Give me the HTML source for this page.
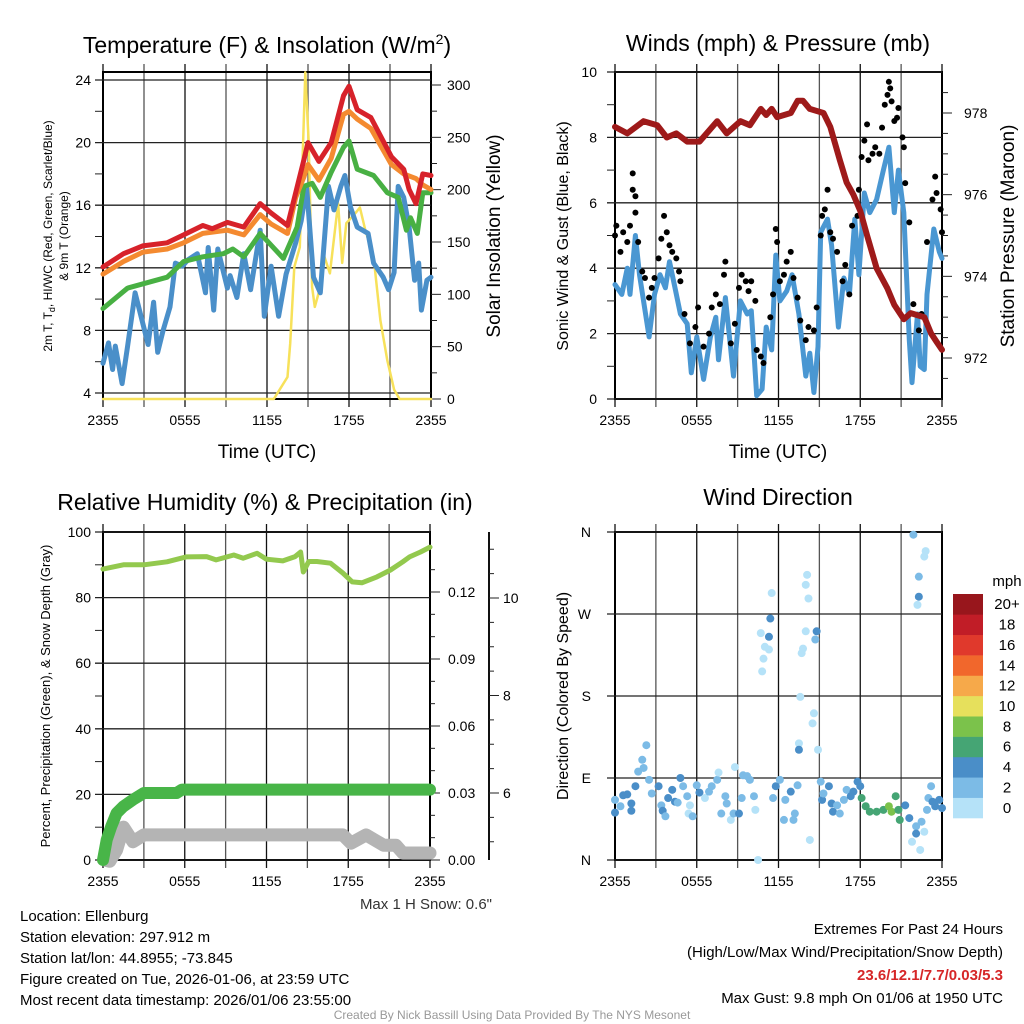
<!DOCTYPE html>
<html><head><meta charset="utf-8"><style>
html,body{margin:0;padding:0;background:#fff;}
svg{display:block;font-family:"Liberation Sans",sans-serif;}
</style></head><body>
<svg id="root" width="1024" height="1024" viewBox="0 0 1024 1024" xmlns="http://www.w3.org/2000/svg">
<g id="static">
<text x="267" y="53" font-size="23" text-anchor="middle">Temperature (F) &amp; Insolation (W/m<tspan dy="-9" font-size="14">2</tspan><tspan dy="9">)</tspan></text>
<text x="778" y="51" font-size="23" text-anchor="middle">Winds (mph) &amp; Pressure (mb)</text>
<text x="265" y="510" font-size="23" text-anchor="middle">Relative Humidity (%) &amp; Precipitation (in)</text>
<text x="778" y="505" font-size="23" text-anchor="middle">Wind Direction</text>
<text x="267" y="458" font-size="19" text-anchor="middle">Time (UTC)</text>
<text x="778" y="458" font-size="19" text-anchor="middle">Time (UTC)</text>
<text transform="translate(52,236) rotate(-90)" font-size="12" text-anchor="middle">2m T, T<tspan dy="3" font-size="9">d</tspan><tspan dy="-3">, HI/WC (Red, Green, Scarlet/Blue)</tspan></text>
<text transform="translate(68,236) rotate(-90)" font-size="12" text-anchor="middle">&amp; 9m T (Orange)</text>
<text transform="translate(500,236) rotate(-90)" font-size="19" text-anchor="middle">Solar Insolation (Yellow)</text>
<text transform="translate(568,236) rotate(-90)" font-size="16" text-anchor="middle">Sonic Wind &amp; Gust (Blue, Black)</text>
<text transform="translate(1014,236) rotate(-90)" font-size="19" text-anchor="middle">Station Pressure (Maroon)</text>
<text transform="translate(50,696) rotate(-90)" font-size="13" text-anchor="middle">Percent, Precipitation (Green), &amp; Snow Depth (Gray)</text>
<text transform="translate(568,696) rotate(-90)" font-size="16" text-anchor="middle">Direction (Colored By Speed)</text>
<text x="492" y="909" font-size="15" text-anchor="end" fill="#333">Max 1 H Snow: 0.6"</text>
<g font-size="15">
<text x="20" y="921">Location: Ellenburg</text>
<text x="20" y="942">Station elevation: 297.912 m</text>
<text x="20" y="963">Station lat/lon: 44.8955; -73.845</text>
<text x="20" y="984">Figure created on Tue, 2026-01-06, at 23:59 UTC</text>
<text x="20" y="1005">Most recent data timestamp: 2026/01/06 23:55:00</text>
</g>
<g font-size="15" text-anchor="end">
<text x="1003" y="934">Extremes For Past 24 Hours</text>
<text x="1003" y="957">(High/Low/Max Wind/Precipitation/Snow Depth)</text>
<text x="1003" y="980" fill="#d62728" font-weight="bold">23.6/12.1/7.7/0.03/5.3</text>
<text x="1003" y="1003">Max Gust: 9.8 mph On 01/06 at 1950 UTC</text>
</g>
<text x="512" y="1019" font-size="12" fill="#999" text-anchor="middle">Created By Nick Bassill Using Data Provided By The NYS Mesonet</text>
</g>
</svg>
<script>
// ---------- data ----------
const timeTickLabels = ["2355","0555","1155","1755","2355"];
const tempTicks = [4,8,12,16,20,24];
const solarTicks = [0,50,100,150,200,250,300];
const redH = [0,1.5,2.9,4.7,5.9,7.3,8.0,9.1,10.3,11.5,12.3,13.5,14.1,14.7,15.0,15.8,16.7,17.6,18.0,18.6,19.6,21.1,22.0,22.4,22.9,23.4,24];
const redT = [12.05,12.9,13.4,13.6,14.1,14.7,14.5,14.9,14.6,16.1,15.5,14.7,16.8,18.9,20.0,18.8,20.0,23.0,23.6,22.1,21.6,19.1,18.3,17.0,16.1,18.0,17.9];
const orangeH = [0,1.5,2.9,4.7,5.9,7.3,9.1,10.3,11.5,12.3,13.5,14.1,14.7,15.0,15.8,16.7,17.6,18.0,18.6,19.6,21.1,22.0,22.9,23.4,24];
const orangeT = [11.6,12.4,13.0,13.2,13.6,14.2,14.4,14.1,15.4,14.8,14.2,16.5,17.8,18.6,17.6,19.0,21.8,22.0,21.5,20.9,18.6,18.0,17.7,17.3,17.0];
const greenH = [0,1.8,4.7,5.9,7.3,8.8,9.5,10.3,11.5,13.2,14.2,14.7,15.3,15.9,16.7,17.6,18.0,18.6,19.8,20.8,21.6,22.2,22.5,23.0,23.4,24];
const greenT = [9.4,10.7,11.4,12.4,12.7,12.9,13.2,12.7,14.2,12.6,14.6,17.2,17.4,16.5,18.1,19.7,20.1,18.3,17.9,16.8,16.5,14.4,15.2,14.2,16.8,16.8];
const blueH = [0,0.4,0.7,0.9,1.4,1.8,2.35,2.9,3.3,3.7,4.0,4.4,4.9,5.3,5.8,6.2,6.9,7.5,7.7,8.1,8.4,9.1,9.3,9.8,10.3,10.8,11.5,11.8,12.3,12.85,13.4,14.1,14.5,14.9,15.4,15.9,16.5,16.9,17.4,17.7,18.1,18.6,19.4,19.8,20.5,20.9,21.3,21.6,22.0,22.4,22.8,23.1,23.3,23.7,24];
const blueT = [5.9,7.2,5.5,7.0,4.6,7.0,10.4,8.5,7.1,9.8,6.6,8.0,9.5,12.3,12.1,12.5,12.9,10.4,13.3,9.3,13.2,10.7,11.5,10.1,12.9,10.6,14.4,8.9,12.1,8.9,11.6,13.6,15.0,17.2,11.4,10.4,17.2,15.7,17.2,17.9,15.9,14.6,14.2,12.3,11.4,10.6,11.7,17.2,16.5,14.6,11.2,12.3,9.3,11.2,11.4];
const solarH = [0,12.5,13.5,13.7,14.0,14.4,14.8,15.05,15.3,15.5,15.9,16.2,16.6,17.2,17.5,17.8,18.5,18.8,19.2,19.8,20.3,20.8,21.3,21.7,24];
const solarW = [0,0,21,53,126,145,312,245,107,88,107,136,120,187,130,168,178,183,161,136,75,37,9,0,0];

const windTicks = [0,2,4,6,8,10];
const pressTicks = [972,974,976,978];
const windH = [0,0.5,0.9,1.1,1.5,1.8,2.5,2.9,3.3,3.7,4.0,4.4,4.8,5.3,5.6,6.0,6.5,7.0,7.4,7.6,8.1,8.5,8.7,9.2,9.7,10.0,10.4,10.8,11.1,11.5,11.8,12.1,12.6,13.0,13.5,14.0,14.3,14.6,14.9,15.1,15.6,15.9,16.4,16.8,17.2,17.6,17.9,18.3,18.7,19.2,19.7,20.1,20.5,20.8,21.2,21.6,21.8,22.2,22.4,22.7,22.9,23.4,23.8,24.0];
const windMph = [3.5,3.2,4.0,3.2,5.0,3.8,1.9,3.2,3.8,3.4,4.2,3.4,2.6,2.3,0.8,1.9,0.6,1.9,2.5,1.2,3.1,1.5,0.7,3.0,2.6,2.7,0.1,0.3,2.2,1.5,4.4,3.0,3.3,3.8,2.6,0.7,1.4,0.2,1.6,5.1,5.5,4.7,2.2,3.7,3.2,5.5,3.8,6.3,5.7,6.1,7.0,7.7,5.7,7.0,5.7,1.8,0.5,2.6,1.0,0.9,3.2,5.2,4.5,4.3];
const gustH = [0,0.1,0.4,0.6,0.9,1.1,1.3,1.3,1.5,1.5,1.7,2.0,2.2,2.5,2.7,2.9,3.2,3.4,3.6,3.8,4.0,4.2,4.5,4.7,4.8,5.1,5.5,5.9,6.1,6.5,6.9,7.1,7.4,7.7,8.0,8.1,8.5,8.8,9.1,9.3,9.6,9.8,10.0,10.3,10.4,10.7,10.9,11.4,11.6,11.8,11.9,12.1,12.4,12.6,12.9,13.1,13.4,13.6,14.0,14.2,14.6,14.8,15.1,15.2,15.4,15.6,15.8,16.0,16.3,16.7,16.9,17.2,17.4,17.8,17.9,18.1,18.3,18.5,18.6,18.9,19.1,19.4,19.6,19.8,20.0,20.1,20.2,20.3,20.5,20.7,20.8,21.1,21.2,21.3,21.6,21.9,22.3,22.5,22.9,23.3,23.5,23.6,23.9,24.0];
const gustMph = [5.0,5.3,4.5,5.1,4.8,5.3,6.9,6.4,6.2,5.7,4.8,3.9,3.7,3.1,3.4,3.7,4.3,4.9,5.6,5.1,4.7,4.5,4.3,3.9,3.6,2.6,1.7,2.2,2.8,1.6,2.0,2.8,3.2,2.9,3.8,4.2,1.7,2.3,3.4,3.8,3.6,3.3,3.6,3.0,1.5,1.3,1.1,2.5,3.2,5.2,4.8,3.6,3.8,4.2,4.5,3.7,3.1,2.4,1.8,2.2,2.1,2.8,5.0,5.6,5.8,6.4,5.1,4.9,4.5,3.6,4.1,3.2,5.3,5.6,6.4,7.4,7.9,8.4,7.3,7.5,7.7,7.5,8.3,9.0,9.3,9.7,9.5,9.1,8.5,8.6,8.9,8.0,7.7,6.6,5.4,2.9,2.1,2.6,4.8,6.1,6.8,6.3,5.8,5.1];
const pressH = [0,0.9,2.1,3.1,3.8,4.5,5.3,6.2,7.5,8.2,9.2,9.9,10.7,11.1,11.5,11.9,12.9,13.4,13.8,14.3,15.3,15.8,16.5,17.0,17.5,18.0,18.5,19.2,20.0,20.5,21.2,21.7,22.7,23.2,23.6,24];
const pressMb = [977.66,977.5,977.8,977.7,977.4,977.5,977.3,977.3,977.8,977.5,977.8,977.7,978.1,977.95,978.1,977.9,978.0,978.3,978.3,978.1,978.0,977.66,976.85,976.3,976.0,975.6,975.0,974.2,973.7,973.3,972.95,973.1,973.0,972.6,972.4,972.2];

const rhTicks = [0,20,40,60,80,100];
const precipTicks = ["0.00","0.03","0.06","0.09","0.12"];
const snowTicks = [6,8,10];
const rhH = [0,1.5,3.0,4.7,6.1,7.6,8.3,9.6,10.3,11.3,12.0,13.2,14.1,14.5,14.7,15.1,15.7,16.7,17.6,18.3,19.0,20.1,21.1,22.0,22.5,23.3,24];
const rhPct = [88.7,90.0,90.0,90.9,92.4,92.5,91.5,93.0,92.0,93.5,91.7,91.2,92.5,93.9,87.8,91.0,91.0,90.5,87.5,84.8,84.5,86.3,88.4,90.9,92.4,93.9,95.4];
const precipH = [0,0.27,0.6,1.0,1.5,2.2,3.0,5.4,5.8,24];
const precipIn = [0,0.009,0.015,0.021,0.024,0.027,0.030,0.030,0.0315,0.0315];
const snowH = [0.2,0.5,1.0,1.5,2.2,3.0,17.6,18.2,19.3,20.6,21.5,22.0,24];
const snowIn = [4.62,4.6,4.83,5.3,5.0,5.14,5.14,4.97,5.14,4.93,4.93,4.77,4.77];

const dirLabels = ["N","E","S","W","N"];
const dirH = [0.0,0.0,0.4,0.6,0.9,1.2,1.2,1.5,1.7,2.0,2.1,2.3,2.5,2.7,3.2,3.4,3.5,3.7,3.9,4.2,4.4,4.6,4.8,5.0,5.3,5.4,5.5,5.7,6.0,6.2,6.6,6.9,7.1,7.5,7.6,7.8,8.1,8.2,8.5,8.7,8.8,9.1,9.3,9.4,9.7,9.9,10.2,10.3,10.5,10.7,10.8,10.9,11.0,11.3,11.3,11.4,11.5,11.6,11.8,12.1,12.4,12.5,12.9,13.1,13.2,13.4,13.5,13.5,13.6,13.7,13.8,14.0,14.0,14.1,14.2,14.3,14.5,14.6,14.7,14.8,14.9,15.1,15.2,15.3,15.7,15.9,16.0,16.3,16.5,16.8,17.0,17.3,17.5,17.8,18.0,18.1,18.4,18.7,19.2,19.7,20.1,20.3,20.6,20.8,20.9,21.3,21.6,21.8,21.9,22.1,22.1,22.2,22.3,22.3,22.4,22.5,22.7,22.7,22.8,22.9,23.0,23.2,23.3,23.5,23.8,24.0];
const dirDeg = [52,66,59,71,72,62,54,81,97,110,101,126,88,73,81,60,54,48,68,77,64,63,90,81,70,51,60,48,82,74,68,75,81,88,96,51,70,62,44,51,102,51,68,93,92,88,70,55,0,249,207,221,234,231,245,265,293,68,81,88,44,66,75,44,51,82,128,121,179,227,232,251,302,313,287,22,150,161,242,251,121,86,66,73,81,62,53,60,51,66,77,70,75,86,81,68,59,53,53,55,59,53,70,55,44,60,46,20,357,37,29,280,289,311,11,42,31,333,339,55,68,81,64,59,66,57];
const dirSpd = [4.5,3,3,4.5,4.5,4.5,4.5,4.5,3,3,3,3,3,3,4.5,3,4.5,3,4.5,4.5,4.5,3,4.5,3,3,1,1,3,3,4.5,1,3,3,3,1,3,3,3,1,3,1,4.5,3,3,3,3,3,1,1,1,1,1,1,1,4.5,4.5,1,3,4.5,3,3,3,4.5,3,3,3,1,4.5,1,1,1,1,1,1,1,1,1,1,3,4.5,1,3,4.5,3,4.5,4.5,4.5,3,3,3,3,4.5,4.5,4.5,4.5,6.5,6.5,6.5,6.5,6.5,8.5,8.5,6.5,6.5,6.5,4.5,4.5,1,3,3,4.5,1,4.5,3,1,3,1,1,1,3,3,3,4.5,4.5,4.5,4.5];
const speedBinLabels = ["0","2","4","6","8","10","12","14","16","18","20+"];
const speedBinColors = ["#b5e2f8","#7cbbe6","#4a8ec8","#45a574","#7bc24b","#e6e05c","#f6a94a","#f1672c","#e0392c","#c11d27","#98161c"];

// ---------- drawing ----------
const NS = "http://www.w3.org/2000/svg";
const root = document.getElementById("root");
function mk(tag, attrs, parent) {
  const e = document.createElementNS(NS, tag);
  for (const k in attrs) e.setAttribute(k, attrs[k]);
  (parent || root).appendChild(e);
  return e;
}
function lin(d0, d1, r0, r1) { return v => r0 + (v - d0) / (d1 - d0) * (r1 - r0); }
function pathFrom(xs, ys, fx, fy) {
  return xs.map((x, i) => (i ? "L" : "M") + fx(x).toFixed(1) + " " + fy(ys[i]).toFixed(1)).join(" ");
}
const hourTickVals = [0,6,12,18,24];

function panelFrame(name, L, R, T, B) {
  const g = mk("g", {});
  
  
  const xs = lin(0, 24, L, R);
  for (let h = 0; h <= 24; h += 3) {
    const ln = mk("line", {x1: xs(h), x2: xs(h), y1: T - 8, y2: B + 8, stroke: h % 6 === 0 ? "#111" : "#555", "stroke-width": 1.3}, g);
    
    
  }
  hourTickVals.forEach((h, i) => {
    const t = mk("text", {x: xs(h), y: B + 26, "font-size": 14, "text-anchor": "middle"}, g);
    t.textContent = timeTickLabels[i];
    
    
  });
  const bx = mk("rect", {x: L, y: T, width: R - L, height: B - T, fill: "none", stroke: "#000", "stroke-width": 2}, g);
  
  
  return g;
}
function hGrid(g, y, L, R, w) {
  const ln = mk("line", {x1: L - 8, x2: R, y1: y, y2: y, stroke: "#222", "stroke-width": w || 1.3}, g);
  
  
}
function tick(g, x, y, dx, name) {
  const ln = mk("line", {x1: x, x2: x + dx, y1: y, y2: y, stroke: "#222", "stroke-width": 1}, g);
  
  
}
function label(g, x, y, txt, anchor, name, size) {
  const t = mk("text", {x: x, y: y + 5, "font-size": size || 14, "text-anchor": anchor}, g);
  t.textContent = txt;
  
  
}
function series(g, xs, ys, fx, fy, color, w, name) {
  const p = mk("path", {d: pathFrom(xs, ys, fx, fy), fill: "none", stroke: color, "stroke-width": w, "stroke-linejoin": "round", "stroke-linecap": "round"}, g);
  
  
}

// Panel 1: temperature
(function(){
  const L = 103, R = 431, T = 72, B = 399;
  const g = panelFrame("temperature-chart", L, R, T, B);
  const fx = lin(0, 24, L, R), fy = lin(4, 24, 393, 80), fs = lin(0, 300, 399, 85);
  tempTicks.forEach(v => { hGrid(g, fy(v), L, R); label(g, L - 12, fy(v), String(v), "end", "temp-y-tick-label"); });
  for (let v = 6; v < 24; v += 4) tick(g, L, fy(v), -8, "temp-minor-tick");
  for (let v = 0; v <= 300; v += 25) tick(g, R, fs(v), v % 50 === 0 ? 10 : 6, "solar-tick");
  solarTicks.forEach(v => label(g, R + 16, fs(v), String(v), "start", "solar-y-tick-label"));
  series(g, solarH, solarW, fx, fs, "#f7e15a", 2.5, "solar-line");
  series(g, blueH, blueT, fx, fy, "#4a8fc9", 5, "windchill-line");
  series(g, greenH, greenT, fx, fy, "#48b043", 5, "dewpoint-line");
  series(g, orangeH, orangeT, fx, fy, "#f48a30", 5, "9m-temp-line");
  series(g, redH, redT, fx, fy, "#d7222a", 5, "2m-temp-line");
})();

// Panel 2: winds
(function(){
  const L = 615, R = 942, T = 72, B = 399;
  const g = panelFrame("winds-chart", L, R, T, B);
  const fx = lin(0, 24, L, R), fy = lin(0, 10, B, T), fp = lin(972, 978, 358, 113);
  windTicks.forEach(v => { hGrid(g, fy(v), L, R); label(g, L - 18, fy(v), String(v), "end", "wind-y-tick-label"); });
  for (let v = 1; v < 10; v += 2) tick(g, L, fy(v), -8, "wind-minor-tick");
  for (let v = 971.5; v <= 978.6; v += 0.5) tick(g, R, fp(v), v % 2 === 0 ? 10 : 6, "pressure-tick");
  pressTicks.forEach(v => label(g, R + 22, fp(v), String(v), "start", "pressure-y-tick-label"));
  series(g, windH, windMph, fx, fy, "#4a97d2", 5, "sonic-wind-line");
  gustH.forEach((h, i) => {
    const c = mk("circle", {cx: fx(h), cy: fy(gustMph[i]), r: 3, fill: "#000"}, g);
    
    
  });
  series(g, pressH, pressMb, fx, fp, "#9e1a1a", 6, "pressure-line");
})();

// Panel 3: humidity & precipitation
(function(){
  const L = 103, R = 430, T = 532, B = 860;
  const g = panelFrame("humidity-chart", L, R, T, B);
  const fx = lin(0, 24, L, R), fy = lin(0, 100, B, T), fpr = lin(0, 0.03, 860, 793), fsn = lin(6, 10, 793, 598);
  rhTicks.forEach(v => { hGrid(g, fy(v), L, R); label(g, L - 12, fy(v), String(v), "end", "rh-y-tick-label"); });
  for (let v = 10; v < 100; v += 20) tick(g, L, fy(v), -8, "rh-minor-tick");
  for (let k = 0; k <= 13; k++) tick(g, R, fpr(k * 0.01), k % 3 === 0 ? 10 : 5, "precip-tick");
  precipTicks.forEach((s, i) => label(g, R + 18, fpr(i * 0.03), s, "start", "precip-y-tick-label"));
  const ax = mk("line", {x1: 489, x2: 489, y1: 532, y2: 860, stroke: "#111", "stroke-width": 2}, g);
  
  
  for (let v = 5; v <= 11; v += 0.5) { const y = fsn(v); if (y >= 532 && y <= 858) tick(g, 489, y, v % 2 === 0 ? 10 : 5, "snow-tick"); }
  snowTicks.forEach(v => label(g, 503, fsn(v), String(v), "start", "snow-y-tick-label"));
  series(g, snowH, snowIn, fx, fsn, "#b4b4b4", 13, "snow-depth-line");
  series(g, precipH, precipIn, fx, fpr, "#48b548", 12, "precip-line");
  series(g, rhH, rhPct, fx, fy, "#93c94e", 5, "rh-line");
})();

// Panel 4: wind direction
(function(){
  const L = 615, R = 942, T = 532, B = 860;
  const g = panelFrame("wind-direction-chart", L, R, T, B);
  const fx = lin(0, 24, L, R), fy = lin(0, 360, B, T);
  dirLabels.forEach((s, i) => { hGrid(g, fy(i * 90), L, R); label(g, L - 24, fy(i * 90), s, "end", "direction-tick-label"); });
  dirH.forEach((h, i) => {
    const idx = Math.min(10, Math.max(0, Math.floor(dirSpd[i] / 2)));
    const c = mk("circle", {cx: fx(h), cy: fy(dirDeg[i]), r: 4, fill: speedBinColors[idx]}, g);
    
    
  });
  const lg = mk("g", {});
  
  
  const cb0 = 818, bh = (818 - 594) / 11;
  speedBinColors.forEach((c, i) => {
    const r = mk("rect", {x: 953, y: cb0 - (i + 1) * bh, width: 30, height: bh + 0.3, fill: c}, lg);
    
    
    label(lg, 1007, cb0 - (i + 0.5) * bh, speedBinLabels[i], "middle", "colorbar-label", 15);
  });
  label(lg, 1007, 581, "mph", "middle", "colorbar-title", 15);
})();
</script>
</body></html>
